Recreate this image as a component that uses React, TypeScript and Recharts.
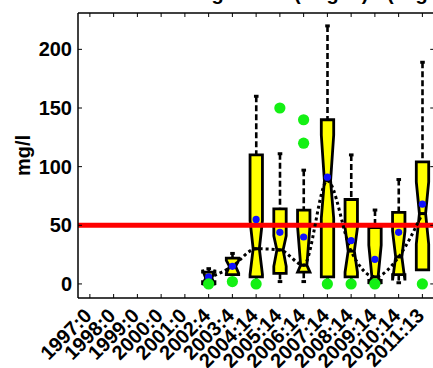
import React from "react";
import {
  ComposedChart,
  Bar,
  Line,
  Scatter,
  XAxis,
  YAxis,
  ReferenceLine,
  Label,
} from "recharts";

const years = [
  "1997:0", "1998:0", "1999:0", "2000:0", "2001:0", "2002:4", "2003:4", "2004:14",
  "2005:14", "2006:14", "2007:14", "2008:14", "2009:14", "2010:14", "2011:13",
];

// box statistics per year (null = no samples)
const whiskerLo = [null, null, null, null, null, 1, 8, 1, 2, 2, 1, 1, 0, 1, 12];
const q1 = [null, null, null, null, null, 2, 8, 6, 9, 10, 6, 6, 3, 8, 12];
const notchLo = [null, null, null, null, null, -1, 9, 8, 15, 10, 56, 10, 0, 3, 34];
const median = [null, null, null, null, null, 5, 15, 30, 29, 16, 88, 28, 6, 23, 60];
const notchHi = [null, null, null, null, null, 12, 20, 54, 41, 49, 127, 48, 33, 45, 87];
const q3 = [null, null, null, null, null, 10, 22, 110, 64, 63, 140, 72, 48, 61, 104];
const whiskerHi = [null, null, null, null, null, 13, 26, 160, 111, 97, 220, 110, 63, 89, 189];
const means = [null, null, null, null, null, 6, 15, 55, 44, 40, 91, 37, 21, 44, 68];

const outlierYears = ["2002:4", "2003:4", "2004:14", "2005:14", "2006:14", "2006:14", "2007:14", "2008:14", "2009:14", "2011:13"];
const outlierValues = [0, 2, 0, 150, 140, 120, 0, 0, 0, 0];

const limit = 50;
const yTicks = [0, 50, 100, 150, 200];

const rows = years.map((year, i) => ({
  year,
  lo: whiskerLo[i],
  q1: q1[i],
  nLo: notchLo[i],
  med: median[i],
  nHi: notchHi[i],
  q3: q3[i],
  hi: whiskerHi[i],
}));

const meanPts = years
  .map((year, i) => ({ year, value: means[i] }))
  .filter((d) => d.value != null);

const outlierPts = outlierYears.map((year, i) => ({ year, value: outlierValues[i] }));

const FONT = "Liberation Sans, Arial, sans-serif";

function BoxShape(props: any) {
  const { x, y, width, height, payload } = props;
  if (!payload || payload.q3 == null || !height) return <g />;
  const d = payload;
  const k = height / (d.hi - d.lo);
  const py = (v: number) => y + (d.hi - v) * k;
  const cx = x + width / 2;
  const w = 6.2;
  const nw = 3.1;
  const pts = [
    [cx - w, py(d.q1)], [cx - w, py(d.nLo)], [cx - nw, py(d.med)], [cx - w, py(d.nHi)], [cx - w, py(d.q3)],
    [cx + w, py(d.q3)], [cx + w, py(d.nHi)], [cx + nw, py(d.med)], [cx + w, py(d.nLo)], [cx + w, py(d.q1)],
  ]
    .map((p) => p.join(","))
    .join(" ");
  return (
    <g>
      <line x1={cx} x2={cx} y1={py(d.hi)} y2={py(d.q3)} stroke="#000" strokeWidth={2.6} strokeDasharray="6 3" />
      <line x1={cx - 2.3} x2={cx + 2.3} y1={py(d.hi)} y2={py(d.hi)} stroke="#000" strokeWidth={3} />
      {d.lo < d.q1 && (
        <>
          <line x1={cx} x2={cx} y1={py(d.q1)} y2={py(d.lo)} stroke="#000" strokeWidth={2.6} strokeDasharray="6 3" />
          <line x1={cx - 2.3} x2={cx + 2.3} y1={py(d.lo)} y2={py(d.lo)} stroke="#000" strokeWidth={3} />
        </>
      )}
      <polygon points={pts} fill="#ffff00" stroke="#000" strokeWidth={2.8} />
      <line x1={cx - nw} x2={cx + nw} y1={py(d.med)} y2={py(d.med)} stroke="#000" strokeWidth={3} />
    </g>
  );
}

function YearTick(props: any) {
  const { x, payload } = props;
  const ax = x + 3;
  const ay = 317;
  return (
    <text
      x={ax}
      y={ay}
      textAnchor="end"
      fontSize={20}
      fontWeight="bold"
      fontFamily={FONT}
      fill="#000"
      transform={`rotate(-45 ${ax} ${ay})`}
    >
      {payload.value}
    </text>
  );
}

export default function App() {
  return (
    <div
      style={{
        position: "absolute",
        left: 0,
        top: 0,
        width: 433,
        height: 368,
        overflow: "hidden",
        background: "#fff",
      }}
    >
      <ComposedChart
        width={440}
        height={368}
        data={rows}
        margin={{ top: 12, right: 0, left: 18, bottom: 0 }}
        style={{ position: "absolute", left: 0, top: 0 }}
      >
        <XAxis
          dataKey="year"
          allowDuplicatedCategory={false}
          height={70}
          interval={0}
          tickSize={-4}
          tickMargin={18}
          axisLine={{ stroke: "#000", strokeWidth: 1.5 }}
          tickLine={{ stroke: "#000", strokeWidth: 1 }}
          tick={<YearTick />}
        />
        <XAxis
          xAxisId="top"
          dataKey="year"
          orientation="top"
          allowDuplicatedCategory={false}
          height={1}
          interval={0}
          tickSize={-4}
          axisLine={{ stroke: "#000", strokeWidth: 1.5 }}
          tickLine={{ stroke: "#000", strokeWidth: 1 }}
          tick={<g />}
        />
        <YAxis
          type="number"
          domain={[-12, 231]}
          allowDataOverflow
          ticks={yTicks}
          width={60}
          tickSize={-4}
          tickMargin={10}
          axisLine={{ stroke: "#000", strokeWidth: 1.5 }}
          tickLine={{ stroke: "#000", strokeWidth: 1 }}
          tick={{ fill: "#000", fontSize: 20, fontWeight: "bold", fontFamily: FONT }}
        >
          <Label
            content={() => (
              <text
                x={30}
                y={155.5}
                textAnchor="middle"
                fontSize={20}
                fontWeight="bold"
                fontFamily={FONT}
                fill="#000"
                transform="rotate(-90 30 155.5)"
              >
                mg/l
              </text>
            )}
          />
        </YAxis>
        <YAxis
          yAxisId="r"
          orientation="right"
          type="number"
          domain={[-12, 231]}
          allowDataOverflow
          ticks={yTicks}
          width={5.75}
          tickSize={-4}
          axisLine={{ stroke: "#000", strokeWidth: 1.5 }}
          tickLine={{ stroke: "#000", strokeWidth: 1 }}
          tick={<g />}
        />
        <Bar
          dataKey={(d: any) => (d.q3 == null ? null : [d.lo, d.hi])}
          barSize={12}
          shape={(p: any) => <BoxShape {...p} />}
          isAnimationActive={false}
        />
        <ReferenceLine y={limit} stroke="#ff0000" strokeWidth={5} />
        <Line
          dataKey="med"
          xAxisId="top"
          yAxisId="r"
          stroke="none"
          dot={false}
          isAnimationActive={false}
        />
        <Line
          dataKey="med"
          type="monotone"
          stroke="#000"
          strokeWidth={3}
          strokeDasharray="3 3"
          dot={false}
          isAnimationActive={false}
        />
        <Scatter
          data={meanPts}
          dataKey="value"
          isAnimationActive={false}
          shape={(p: any) => <circle cx={p.cx} cy={p.cy} r={3.6} fill="#1010ff" />}
        />
        <Scatter
          data={outlierPts}
          dataKey="value"
          isAnimationActive={false}
          shape={(p: any) => <circle cx={p.cx} cy={p.cy} r={5.6} fill="#14f014" />}
        />
      </ComposedChart>
      <svg width={433} height={10} style={{ position: "absolute", left: 0, top: 0 }}>
        <text fontSize={20} fontWeight="bold" fontFamily={FONT} fill="#000">
          <tspan x={66} y={0}>Sulfat Belastung</tspan>
          <tspan x={294} y={0} letterSpacing={4}>(mg/l)</tspan>
          <tspan x={387} y={0}>(Tage)</tspan>
        </text>
      </svg>
    </div>
  );
}
